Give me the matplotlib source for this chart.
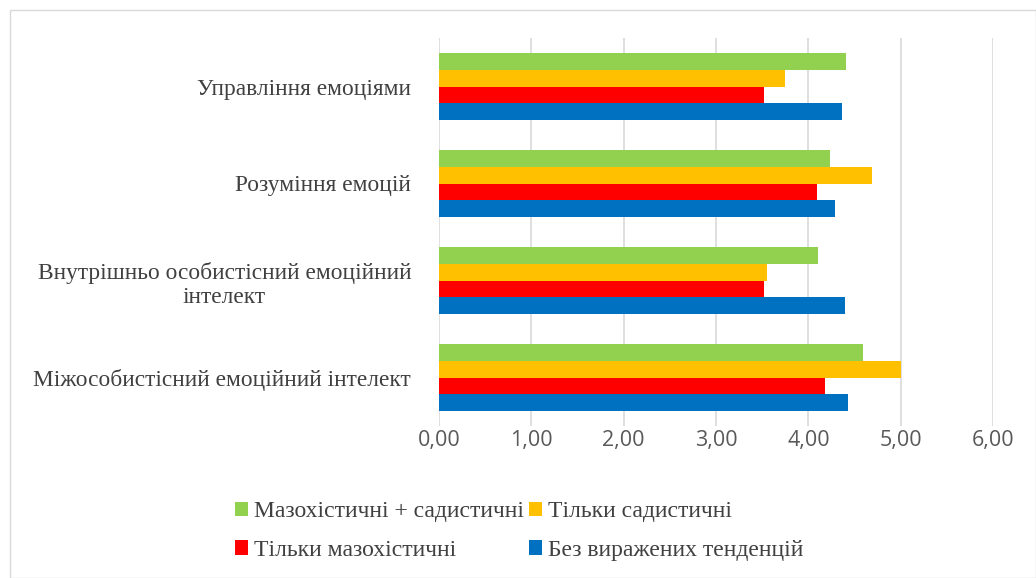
import matplotlib
matplotlib.use('Agg')
import matplotlib.pyplot as plt
import numpy as np
from matplotlib.patches import Rectangle

categories = ['Міжособистісний емоційний інтелект',
              'Внутрішньо особистісний емоційний\nінтелект',
              'Розуміння емоцій',
              'Управління емоціями']
series_names = ['Без виражених тенденцій', 'Тільки мазохістичні',
                'Тільки садистичні', 'Мазохістичні + садистичні']
no_tendency = [4.43, 4.40, 4.29, 4.36]
only_maso = [4.18, 3.52, 4.09, 3.52]
only_sad = [5.00, 3.55, 4.69, 3.75]
maso_sad = [4.59, 4.11, 4.23, 4.41]
ticks = [0, 1, 2, 3, 4, 5, 6]
tick_labels = ['0,00', '1,00', '2,00', '3,00', '4,00', '5,00', '6,00']

colors = ['#0070C0', '#FF0000', '#FFC000', '#92D050']
values = [no_tendency, only_maso, only_sad, maso_sad]

fig = plt.figure(figsize=(10.36, 5.78), dpi=100)
ax = fig.add_axes([439/1036, 1 - 426/578, (993-439)/1036, 388/578])

y = np.arange(len(categories))
h = 0.172
bars = []
for i, (vals, c, name) in enumerate(zip(values, colors, series_names)):
    b = ax.barh(y + (i - 1.5) * h, vals, height=h, color=c, label=name, zorder=3)
    bars.append(b)

ax.set_xlim(0, 6)
ax.set_ylim(-0.5, 3.5)
ax.set_xticks(ticks)
ax.set_xticklabels(tick_labels, fontsize=15.5, color='#595959', family='Open Sans')
ax.set_yticks(y)
ax.set_yticklabels(categories, fontsize=16.8, color='#404040', family='Liberation Serif',
                   multialignment='center')
ax.tick_params(axis='both', length=0)
ax.tick_params(axis='y', pad=20)
ax.tick_params(axis='x', pad=3)
ax.grid(axis='x', color='#D9D9D9', linewidth=1.2, zorder=0)
for s in ax.spines.values():
    s.set_visible(False)

# legend: row 1 green, orange; row 2 red, blue
order = [3, 1, 2, 0]
leg = fig.legend([bars[i] for i in order], [series_names[i] for i in order],
                 loc='center', bbox_to_anchor=(519/1036, 1 - 531/578), ncol=2,
                 frameon=False, prop={'family': 'Liberation Serif', 'size': 17},
                 handlelength=0.55, handleheight=0.55, handletextpad=0.25,
                 columnspacing=0.2, labelspacing=0.75)
for t in leg.get_texts():
    t.set_color('#404040')

fig.patches.append(Rectangle((10/1036, 0), 1 - 10/1036, 1 - 10/578, transform=fig.transFigure,
                             fill=False, edgecolor='#D9D9D9', linewidth=1))

fig.savefig('out.png', dpi=100)
